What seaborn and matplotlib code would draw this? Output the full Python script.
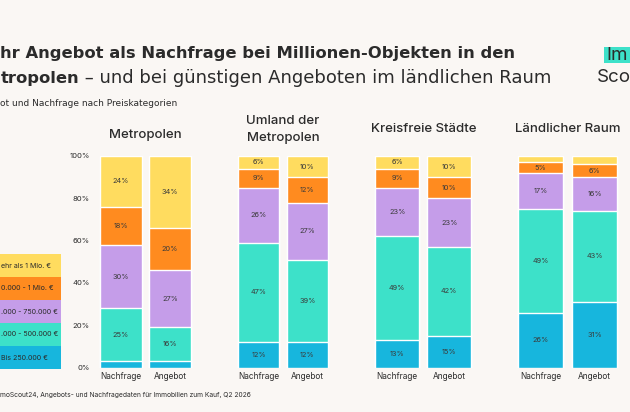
import pandas as pd
import matplotlib.pyplot as plt
import seaborn as sns
from matplotlib.patches import Rectangle

# Daten: Anteile je Preiskategorie (von unten nach oben), in %
categories = ["Bis 250.000 €", "250.000 - 500.000 €", "500.000 - 750.000 €",
              "750.000 - 1 Mio. €", "Mehr als 1 Mio. €"]
# sichtbarer Teil der Legende (Bild ist links beschnitten)
legend_labels = ["Bis 250.000 €", ".000 - 500.000 €", ".000 - 750.000 €",
                 "0.000 - 1 Mio. €", "ehr als 1 Mio. €"]
colors = ["#17B6DD", "#3DE1C9", "#C59DE9", "#FF8B1F", "#FFDC5F"]
groups = ["Nachfrage", "Angebot"]
regions = ["Metropolen", "Umland der\nMetropolen", "Kreisfreie Städte", "Ländlicher Raum"]

metropolen_nachfrage = [3, 25, 30, 18, 24]
metropolen_angebot = [3, 16, 27, 20, 34]
umland_nachfrage = [12, 47, 26, 9, 6]
umland_angebot = [12, 39, 27, 12, 10]
kreisfrei_nachfrage = [13, 49, 23, 9, 6]
kreisfrei_angebot = [15, 42, 23, 10, 10]
laendlich_nachfrage = [26, 49, 17, 5, 3]
laendlich_angebot = [31, 43, 16, 6, 4]

series = {
    regions[0]: (metropolen_nachfrage, metropolen_angebot),
    regions[1]: (umland_nachfrage, umland_angebot),
    regions[2]: (kreisfrei_nachfrage, kreisfrei_angebot),
    regions[3]: (laendlich_nachfrage, laendlich_angebot),
}

rows = []
for reg, (nf, ang) in series.items():
    for grp, vals in zip(groups, (nf, ang)):
        cum = 0
        for cat, v in zip(categories, vals):
            cum += v
            rows.append({"region": reg, "typ": grp, "kat": cat, "wert": v, "cum": cum})
df = pd.DataFrame(rows)

BG = "#FAF7F4"
TXT = "#2B2B2B"
sns.set_theme(style="white", rc={"figure.facecolor": BG, "axes.facecolor": BG})
plt.rcParams["font.family"] = ["Inter", "DejaVu Sans"]

W, H = 630, 412
fig = plt.figure(figsize=(W / 100, H / 100), dpi=100)

# Hintergrund-Achse in Pixelkoordinaten fuer Texte und Legende
bg = fig.add_axes([0, 0, 1, 1], zorder=-1)
bg.set_xlim(0, W)
bg.set_ylim(H, 0)
bg.axis("off")
renderer = fig.canvas.get_renderer()

# Panels: (Mitte erster Balken, Abstand, Balkenbreite) in px
panel_geo = [(121, 49, 42), (258.5, 49, 41), (397.3, 52, 44), (540.5, 54, 45)]
y_top, y_bot = 156, 367.5

for i, (reg, (c0, sp, bw)) in enumerate(zip(regions, panel_geo)):
    left = c0 - sp / 2
    ax = fig.add_axes([left / W, (H - y_bot) / H, 2 * sp / W, (y_bot - y_top) / H])
    sub = df[df["region"] == reg]
    for cat, col in reversed(list(zip(categories, colors))):
        sns.barplot(data=sub[sub["kat"] == cat], x="typ", y="cum", order=groups,
                    color=col, saturation=1, width=bw / sp, errorbar=None, ax=ax)
    for _, r in sub.iterrows():
        if r["wert"] >= 5:
            ax.text(groups.index(r["typ"]), r["cum"] - r["wert"] / 2, f"{r['wert']}%",
                    ha="center", va="center", fontsize=5.3, color="#3A3A3A")
    ax.set_xlim(-0.5, 1.5)
    ax.set_ylim(0, 100)
    ax.set_xlabel("")
    ax.set_ylabel("")
    ax.tick_params(axis="x", length=0, pad=3, labelsize=6, labelcolor=TXT)
    if i == 0:
        ax.set_yticks([0, 20, 40, 60, 80, 100])
        ax.set_yticklabels(["0%", "20%", "40%", "60%", "80%", "100%"])
        ax.tick_params(axis="y", length=0, pad=5, labelsize=5.5, labelcolor=TXT)
    else:
        ax.set_yticks([])
    sns.despine(ax=ax, left=True, bottom=True)
    ax.patch.set_alpha(0)

# Panel-Ueberschriften
title_y = [135, 129.5, 129, 129]
for reg, (c0, sp, bw), ty in zip(regions, panel_geo, title_y):
    bg.text(c0 + sp / 2, ty, reg, ha="center", va="center", fontsize=9.5,
            fontweight="medium", color=TXT, linespacing=1.55)

# Legende links
for k, (lab, col) in enumerate(reversed(list(zip(legend_labels, colors)))):
    y0 = 254 + k * 23
    bg.add_patch(Rectangle((-17, y0), 78, 23, color=col, lw=0))
    bg.text(1, y0 + 11.5, lab, ha="left", va="center", fontsize=5.1, color=TXT)

# Titel (links beschnitten wie im Original)
tfont = ["DejaVu Sans"]
bg.text(0.5, 53, "hr Angebot als Nachfrage bei Millionen-Objekten in den", ha="left",
        va="center", fontsize=11.8, fontweight="bold", color=TXT, family=tfont)
t2 = bg.text(0.5, 78, "tropolen", ha="left", va="center", fontsize=11.8,
             fontweight="bold", color=TXT, family=tfont)
x_end = t2.get_window_extent(renderer).x1
bg.text(x_end, 78, " – und bei günstigen Angeboten im ländlichen Raum", ha="left",
        va="center", fontsize=13, color=TXT, family=tfont)
bg.text(0.5, 103, "ot und Nachfrage nach Preiskategorien", ha="left", va="center",
        fontsize=6.5, color=TXT, family=tfont)

# Quelle
bg.text(0.5, 395, "moScout24, Angebots- und Nachfragedaten für Immobilien zum Kauf, Q2 2026",
        ha="left", va="center", fontsize=4.8, color=TXT)

# Logo rechts oben (rechts beschnitten)
bg.add_patch(Rectangle((604, 47), 40, 16, color="#3DE1C9", lw=0))
bg.text(606, 55.5, "Im", ha="left", va="center", fontsize=13.5, color=TXT)
bg.text(597, 77.5, "Sco", ha="left", va="center", fontsize=13.5, color=TXT)

fig.savefig("out.png", dpi=100, facecolor=BG)
plt.close(fig)
